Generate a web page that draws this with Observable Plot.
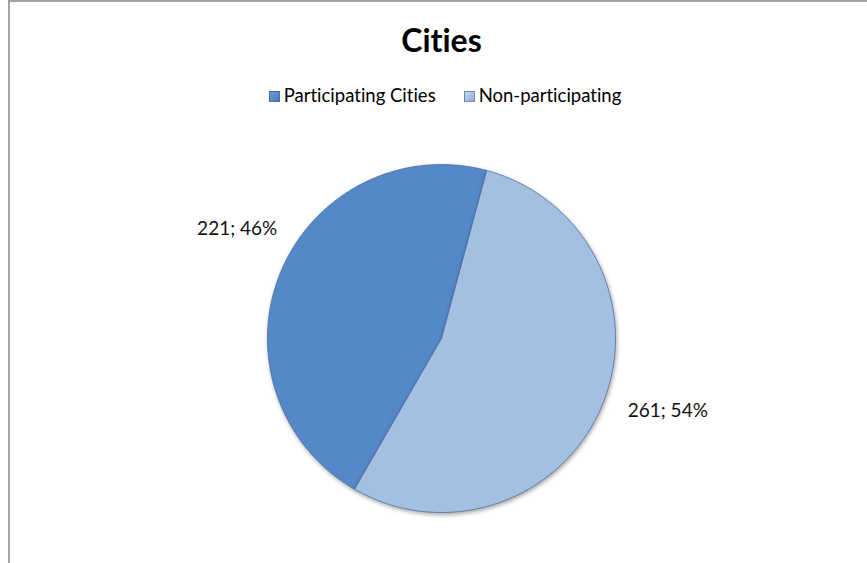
<!DOCTYPE html>
<html>
<head>
<meta charset="utf-8">
<script src="https://cdn.jsdelivr.net/npm/d3@7"></script>
<script src="https://cdn.jsdelivr.net/npm/@observablehq/plot@0.6"></script>
<style>
  body { margin: 0; background: #fff; font-family: Lato, "Liberation Sans", sans-serif;
         font-variant-ligatures: none; font-feature-settings: "liga" 0, "dlig" 0; }
  svg text { font-variant-ligatures: none; font-feature-settings: "liga" 0; }
  #wrap { position: relative; width: 867px; height: 563px; overflow: hidden; background: #fff; }
  #frame { position: absolute; left: 8px; top: 0; width: 900px; height: 600px;
           border-left: 2px solid #a3a3a3; border-top: 2px solid #a3a3a3; box-sizing: border-box; }
  #title { position: absolute; left: 0; width: 883px; top: 21px; text-align: center;
           font-weight: bold; font-size: 32px; line-height: 1.2; color: #000; }
  #legend { position: absolute; left: 0; width: 890px; top: 84px; display: flex; justify-content: center;
            gap: 28px; font-size: 18.5px; line-height: 1.2; color: #000; }
  .item { display: flex; align-items: center; }
  .sw { width: 11px; height: 11px; margin-right: 4px; margin-top: 2px; border: 1px solid rgba(60,80,110,0.5); box-sizing: border-box; }
  #chart { position: absolute; left: 0; top: 0; }
</style>
</head>
<body>
<div id="wrap">
  <div id="frame"></div>
  <div id="title">Cities</div>
  <div id="legend"></div>
  <div id="chart"></div>
</div>
<script>
const categories = ["Participating Cities", "Non-participating"];
const values = [221, 261];
const colors = ["#5588c9", "#a3bfe2"];
const startDeg = 210;

const total = d3.sum(values);
const rows = categories.map((c, i) => ({cat: c, value: values[i], color: colors[i]}));

// legend
const legend = document.getElementById("legend");
rows.forEach(r => {
  const it = document.createElement("div");
  it.className = "item";
  const sw = document.createElement("span");
  sw.className = "sw";
  sw.style.background = `linear-gradient(135deg, ${d3.color(r.color).brighter(0.4)}, ${d3.color(r.color).darker(0.3)})`;
  it.appendChild(sw);
  const t = document.createElement("span");
  t.textContent = r.cat;
  it.appendChild(t);
  legend.appendChild(it);
});

const a0 = startDeg * Math.PI / 180;
const arcs = d3.pie().value(d => d.value).sort(null).startAngle(a0).endAngle(a0 + 2 * Math.PI)(rows);

function slicePoints(a) {
  const pts = [{x: 0, y: 0}];
  const n = Math.max(2, Math.ceil((a.endAngle - a.startAngle) / (Math.PI / 360)));
  for (let k = 0; k <= n; k++) {
    const t = a.startAngle + (a.endAngle - a.startAngle) * k / n;
    pts.push({x: Math.sin(t), y: Math.cos(t)});
  }
  pts.push({x: 0, y: 0});
  return pts;
}

const labels = arcs.map(a => {
  const m = (a.startAngle + a.endAngle) / 2;
  return {
    x: 1.14 * Math.sin(m),
    y: 1.14 * Math.cos(m),
    text: `${a.data.value}; ${Math.round(a.data.value / total * 100)}%`
  };
});

const marks = [];
arcs.forEach(a => {
  marks.push(Plot.line(slicePoints(a), {
    x: "x", y: "y", curve: "linear",
    fill: a.data.color, stroke: "#4a6f9c", strokeWidth: 1, strokeOpacity: 0.8, strokeLinejoin: "round"
  }));
});
marks.push(Plot.text([labels[0]], {x: "x", y: "y", text: "text", textAnchor: "end", dx: 19, dy: -34,
  fontSize: 19, fill: "#111", fontFamily: "Lato, 'Liberation Sans', sans-serif"}));
marks.push(Plot.text([labels[1]], {x: "x", y: "y", text: "text", textAnchor: "start", dx: 3, dy: -4,
  fontSize: 19, fill: "#111", fontFamily: "Lato, 'Liberation Sans', sans-serif"}));

const chart = Plot.plot({
  width: 867, height: 563,
  margin: 0,
  x: {domain: [-1, 1], range: [267, 615], axis: null},
  y: {domain: [-1, 1], range: [512, 164], axis: null},
  style: {background: "transparent", overflow: "visible"},
  marks
});
chart.querySelectorAll('g[aria-label="line"]').forEach(g => {
  g.style.filter = "drop-shadow(1px 2px 2px rgba(0,0,0,0.35))";
});
document.getElementById("chart").appendChild(chart);
</script>
</body>
</html>
